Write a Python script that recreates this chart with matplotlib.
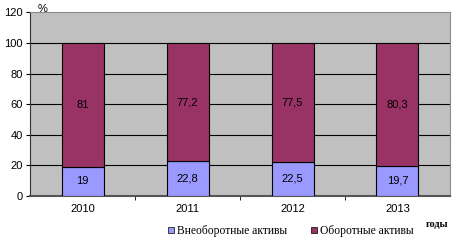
import numpy as np
import matplotlib
matplotlib.use("Agg")
from matplotlib import pyplot as plt
from matplotlib.patches import Patch

years = ["2010", "2011", "2012", "2013"]
non_current = [19, 22.8, 22.5, 19.7]
current = [81, 77.2, 77.5, 80.3]
labels = ["Внеоборотные активы", "Оборотные активы"]


def fmt(v):
    return ("%g" % v).replace(".", ",")


fig = plt.figure(figsize=(4.64, 2.45), dpi=100)
ax = fig.add_axes([30 / 464, 1 - 196 / 245, 420 / 464, 183.6 / 245])
ax.set_facecolor("#c0c0c0")

x = np.arange(len(years))
ax.bar(x, non_current, width=0.4, color="#9999ff", edgecolor="black", linewidth=0.8, zorder=3)
ax.bar(x, current, width=0.4, bottom=non_current, color="#993366", edgecolor="black", linewidth=0.8, zorder=3)

for i in range(len(years)):
    ax.text(x[i], non_current[i] / 2, fmt(non_current[i]), ha="center", va="center",
            fontsize=8, family="Liberation Sans", zorder=4)
    ax.text(x[i], non_current[i] + current[i] / 2, fmt(current[i]), ha="center", va="center",
            fontsize=8, family="Liberation Sans", zorder=4)

ax.set_xlim(-0.5, 3.5)
ax.set_ylim(0, 120)
ax.set_yticks(range(0, 121, 20))
ax.set_xticks(x)
ax.set_xticklabels(years)
ax.set_xticks([0.5, 1.5, 2.5], minor=True)
ax.tick_params(axis="x", which="major", length=0, labelsize=8, pad=6)
ax.tick_params(axis="x", which="minor", length=3, direction="out")
ax.tick_params(axis="y", length=3, labelsize=8, pad=2)
for lab in ax.get_xticklabels() + ax.get_yticklabels():
    lab.set_family("Liberation Sans")

# gridlines 20..100 in black, the top edge stays grey
for v in range(20, 101, 20):
    ax.axhline(v, color="black", linewidth=0.8, zorder=1)
ax.spines["top"].set_color("#8c8c8c")
ax.spines["right"].set_color("#8c8c8c")
ax.spines["left"].set_color("#333333")
ax.spines["bottom"].set_color("#555555")
ax.spines["bottom"].set_linewidth(1.5)

fig.text(38 / 464, 1 - 9 / 245, "%", fontsize=8, family="Liberation Sans", va="center")
fig.text(426 / 464, 1 - 224 / 245, "годы", fontsize=7.5, family="Liberation Serif",
         weight="bold", va="center")

handles = [Patch(facecolor="#9999ff", edgecolor="black", linewidth=0.5),
           Patch(facecolor="#993366", edgecolor="black", linewidth=0.5)]
fig.legend(handles, labels, loc="center", bbox_to_anchor=(291 / 464, 1 - 231 / 245), ncol=2,
           frameon=False, prop={"family": "Liberation Serif", "size": 8.4},
           handlelength=0.5, handleheight=0.5, handletextpad=0.3, columnspacing=2.0,
           borderpad=0, borderaxespad=0)

fig.savefig("out.png", dpi=100)
